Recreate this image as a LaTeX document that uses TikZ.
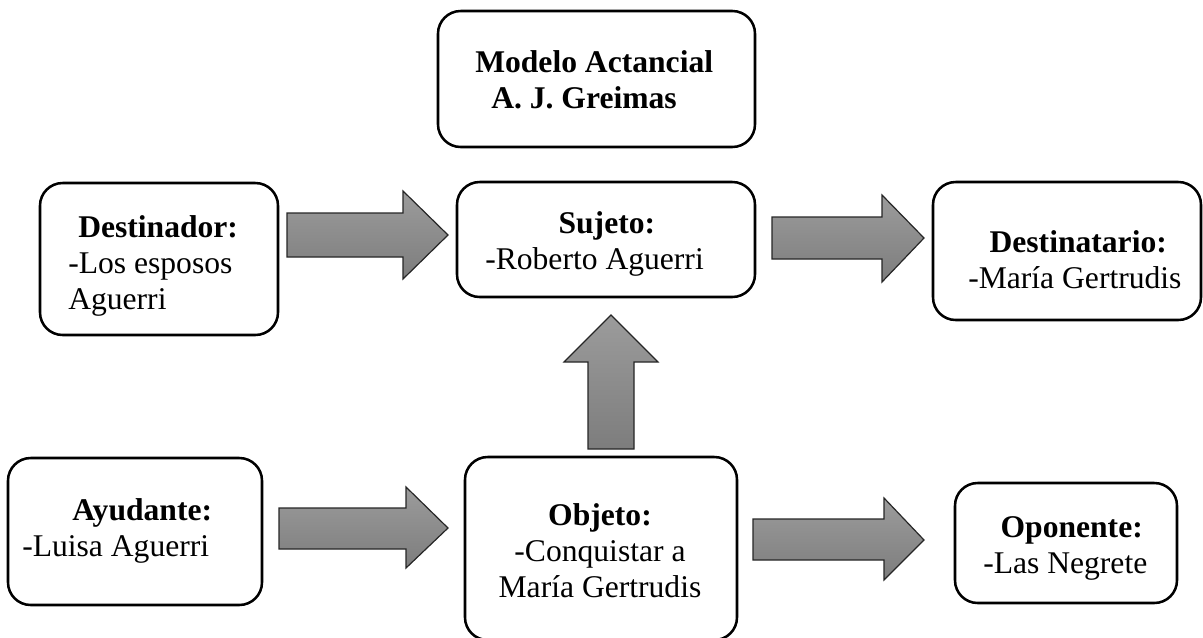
\documentclass[tikz,border=0pt]{standalone}
\usepackage{fontspec}
\setmainfont{Liberation Serif}
\usetikzlibrary{positioning,fit}
\tikzset{
  actbox/.style={draw=black,line width=1.9pt,rounded corners=17pt,inner sep=0pt},
  acttxt/.style={anchor=base west,inner sep=0pt,align=left,font=\fontsize{23.7pt}{27pt}\selectfont},
  actctr/.style={anchor=base,inner sep=0pt,align=center,font=\fontsize{23.7pt}{27pt}\selectfont},
  blkarrow/.style={draw=black!85,line width=0.9pt,top color=black!39,bottom color=black!51}
}

\begin{document}
\begin{tikzpicture}[x=0.75pt,y=-0.75pt]
  \useasboundingbox (0,0) rectangle (1203,637);

  % cajas
  \node[actbox,fit={(438,11) (755,147)}] (titulo) {};
  \node[actbox,fit={(40,183) (278,335)}] (destinador) {};
  \node[actbox,fit={(457,182) (755,297)}] (sujeto) {};
  \node[actbox,fit={(933,182) (1201,320)}] (destinatario) {};
  \node[actbox,fit={(8,458) (262,605)}] (ayudante) {};
  \node[actbox,fit={(465,457) (737,640)}] (objeto) {};
  \node[actbox,fit={(955,483) (1177,603)}] (oponente) {};

  % textos (ancla en la linea base de la ultima linea)
  \node[acttxt] (titulo-t) at (475,108) {\textbf{Modelo Actancial}\\\hspace*{12pt}\textbf{A. J. Greimas}};
  \node[acttxt] (destinador-t) at (68,309) {\hspace*{7.5pt}\textbf{Destinador:}\\-Los esposos\\Aguerri};
  \node[acttxt] (sujeto-t) at (485,269) {\hspace*{55pt}\textbf{Sujeto:}\\-Roberto Aguerri};
  \node[acttxt] (destinatario-t) at (968,288) {\hspace*{16pt}\textbf{Destinatario:}\\-María Gertrudis};
  \node[acttxt] (ayudante-t) at (22,556) {\hspace*{37.5pt}\textbf{Ayudante:}\\-Luisa Aguerri};
  \node[actctr] (objeto-t) at (600,597) {\textbf{Objeto:}\\-Conquistar a\\María Gertrudis};
  \node[acttxt] (oponente-t) at (983,573) {\hspace*{13pt}\textbf{Oponente:}\\-Las Negrete};

  % flechas
  \draw[blkarrow] (287,213) -- (403,213) -- (403,191) -- (448,235) -- (403,279) -- (403,257) -- (287,257) -- cycle;
  \draw[blkarrow] (772,217) -- (882,217) -- (882,195) -- (924,238) -- (882,282) -- (882,259) -- (772,259) -- cycle;
  \draw[blkarrow] (588,449) -- (588,362) -- (564,362) -- (611,315) -- (658,362) -- (634,362) -- (634,449) -- cycle;
  \draw[blkarrow] (279,508) -- (406,508) -- (406,487) -- (448,528) -- (406,568) -- (406,549) -- (279,549) -- cycle;
  \draw[blkarrow] (753,519) -- (884,519) -- (884,498) -- (924,540) -- (884,580) -- (884,560) -- (753,560) -- cycle;
\end{tikzpicture}
\end{document}
